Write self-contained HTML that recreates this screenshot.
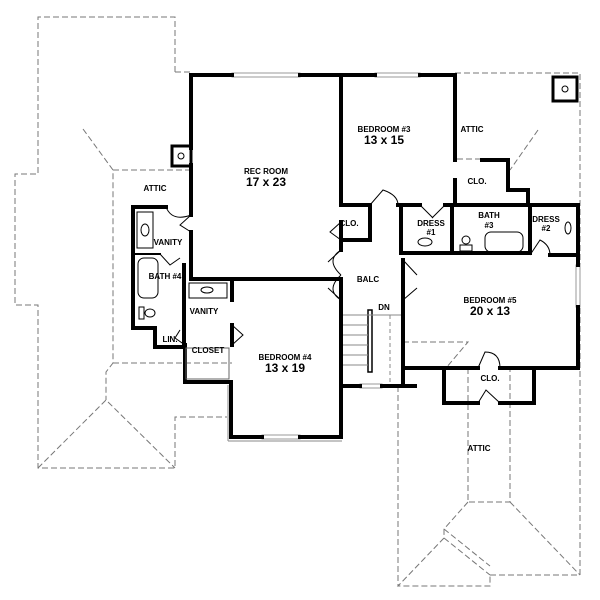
<!DOCTYPE html>
<html><head><style>
html,body{margin:0;padding:0;background:#fff;}
svg{display:block}
text{font-family:"Liberation Sans",Arial,sans-serif;font-weight:bold;fill:#000;text-anchor:middle}
.s{font-size:8px}
.d{font-size:12px}
</style></head><body>
<svg width="600" height="600" viewBox="0 0 600 600" xmlns="http://www.w3.org/2000/svg">
<g fill="none" stroke="#777" stroke-width="1" stroke-dasharray="6,3">
<polyline points="175,72 175,17 38,17 38,174 15,174 15,305 38,305 38,468 175,468 175,417 227,417"/>
<polyline points="83,129 113,170 113,363 106,372 106,400"/>
<line x1="113" y1="170" x2="191" y2="170"/>
<line x1="113" y1="363" x2="232" y2="363"/>
<polyline points="38,468 106,400 175,468"/>
<polyline points="175,72 191,72"/>
<polyline points="455,73 580,73 580,575 490,575"/>
<line x1="538" y1="130" x2="510" y2="170"/>
<polyline points="403,342 468,342 446,368"/>
<polyline points="468,368 468,502 510,502 510,368"/>
<line x1="510" y1="502" x2="580" y2="575"/>
<polyline points="468,502 444,529 444,538 398,586 490,586 490,575"/>
<line x1="444" y1="538" x2="490" y2="575"/>
<line x1="444" y1="529" x2="490" y2="566"/>
<line x1="398" y1="386" x2="398" y2="586"/>
<line x1="457" y1="159" x2="482" y2="159"/>
</g>
<g fill="none" stroke="#999" stroke-width="1">
<rect x="232" y="73" width="68" height="4"/>
<rect x="375" y="73" width="45" height="4"/>
<rect x="576" y="265" width="4" height="42"/>
<rect x="262" y="435" width="38" height="4"/>
<rect x="360" y="384" width="22" height="4"/>
</g>
<g fill="none" stroke="#000" stroke-width="4" stroke-linecap="square">
<polyline points="191,75 191,148"/>
<polyline points="191,165 191,215"/>
<polyline points="191,232 191,279 341,279"/>
<line x1="191" y1="75" x2="232" y2="75"/>
<line x1="300" y1="75" x2="375" y2="75"/>
<line x1="420" y1="75" x2="455" y2="75"/>
<polyline points="341,75 341,205"/>
<line x1="341" y1="222" x2="341" y2="250"/>
<polyline points="455,75 455,160"/>
<polyline points="455,180 455,205"/>
<polyline points="482,160 508,160 508,190 528,190 528,205"/>
<line x1="341" y1="205" x2="370" y2="205"/>
<line x1="398" y1="205" x2="420" y2="205"/>
<line x1="445" y1="205" x2="578" y2="205"/>
<polyline points="370,205 370,240 341,240"/>
<polyline points="578,205 578,265"/>
<polyline points="578,307 578,368 534,368 534,403 500,403"/>
<polyline points="478,403 444,403 444,368 403,368"/>
<line x1="500" y1="368" x2="534" y2="368"/>
<line x1="444" y1="368" x2="478" y2="368"/>
<line x1="401" y1="253" x2="530" y2="253"/>
<line x1="550" y1="255" x2="578" y2="255"/>
<polyline points="401,205 401,253"/>
<line x1="452" y1="205" x2="452" y2="253"/>
<line x1="530" y1="205" x2="530" y2="253"/>
<polyline points="403,260 403,383"/>
<polyline points="341,300 341,437 300,437"/>
<line x1="262" y1="437" x2="231" y2="437"/>
<polyline points="231,437 231,382 185,382 185,345"/>
<line x1="341" y1="386" x2="360" y2="386"/>
<line x1="382" y1="386" x2="415" y2="386"/>
<line x1="341" y1="279" x2="341" y2="300"/>
<polyline points="166,207 133,207 133,328 155,328 155,347 185,347"/>
<polyline points="184,265 184,345"/>
<line x1="232" y1="279" x2="232" y2="300"/>
<line x1="232" y1="325" x2="232" y2="345"/>
<line x1="133" y1="254" x2="160" y2="254" stroke-width="2"/>
<rect x="172" y="146" width="19" height="20" stroke-width="3"/>
<rect x="553" y="77" width="24" height="24" stroke-width="3"/>
</g>
<g fill="none" stroke="#000" stroke-width="1">
<circle cx="181" cy="156" r="3"/>
<circle cx="565" cy="89" r="3"/>
<path d="M341,250 L328,262 M341,300 L328,288 M341,250 Q325,260 341,275 M341,300 Q325,290 341,275"/>
<path d="M403,260 L417,275 M403,300 L417,288"/>
<path d="M370,205 L383,190 Q398,195 398,205"/>
<path d="M420,205 L433,218 M445,205 L432,218"/>
<path d="M478,368 L485,352 Q500,352 500,368 M478,403 L486,390 L500,403"/>
<path d="M530,255 L540,240 Q550,245 550,255"/>
<path d="M341,222 L330,232 L341,240"/>
<path d="M191,215 L180,225 L191,232 M166,207 Q172,222 191,215"/>
<path d="M232,325 L243,335 L232,345"/>
<path d="M185,345 L175,338 L180,330"/>
<path d="M160,254 L170,265 L180,258"/>
<rect x="137" y="212" width="16" height="36"/><ellipse cx="145" cy="230" rx="4" ry="6"/>
<rect x="138" y="258" width="20" height="40" rx="6"/>
<ellipse cx="150" cy="313" rx="5" ry="4"/><rect x="139" y="307" width="5" height="12"/>
<rect x="189" y="283" width="38" height="15"/><ellipse cx="207" cy="290" rx="6" ry="3"/>
<ellipse cx="425" cy="242" rx="7" ry="4"/>
<circle cx="466" cy="240" r="4"/><rect x="460" y="245" width="12" height="6"/>
<rect x="485" y="232" width="38" height="20" rx="6"/>
<ellipse cx="568" cy="228" rx="3" ry="6"/>
<rect x="186" y="348" width="43" height="31" stroke="#666"/>
<rect x="368" y="310" width="4" height="62" stroke-width="1.5"/>
<line x1="343" y1="315" x2="401" y2="315" stroke="#888"/>
<line x1="343" y1="325" x2="368" y2="325" stroke="#888"/>
<line x1="343" y1="335" x2="368" y2="335" stroke="#888"/>
<line x1="343" y1="345" x2="368" y2="345" stroke="#888"/>
<line x1="343" y1="355" x2="368" y2="355" stroke="#888"/>
<line x1="343" y1="365" x2="368" y2="365" stroke="#888"/>
<line x1="390" y1="315" x2="390" y2="384" stroke="#888" stroke-dasharray="4,3"/>
<line x1="228" y1="385" x2="228" y2="441" stroke="#888"/>
<line x1="228" y1="441" x2="342" y2="441" stroke="#888"/>
</g>
<text class="s" x="266" y="174">REC ROOM</text>
<text class="d" x="266" y="186">17 x 23</text>
<text class="s" x="384" y="132">BEDROOM #3</text>
<text class="d" x="384" y="144">13 x 15</text>
<text class="s" x="472" y="132">ATTIC</text>
<text class="s" x="477" y="184">CLO.</text>
<text class="s" x="349" y="226">CLO.</text>
<text class="s" x="431" y="226">DRESS</text>
<text class="s" x="431" y="235">#1</text>
<text class="s" x="489" y="218">BATH</text>
<text class="s" x="489" y="228">#3</text>
<text class="s" x="546" y="222">DRESS</text>
<text class="s" x="546" y="231">#2</text>
<text class="s" x="368" y="282">BALC</text>
<text class="s" x="384" y="310">DN</text>
<text class="s" x="490" y="303">BEDROOM #5</text>
<text class="d" x="490" y="315">20 x 13</text>
<text class="s" x="490" y="381">CLO.</text>
<text class="s" x="479" y="451">ATTIC</text>
<text class="s" x="285" y="360">BEDROOM #4</text>
<text class="d" x="285" y="372">13 x 19</text>
<text class="s" x="155" y="191">ATTIC</text>
<text class="s" x="168" y="245">VANITY</text>
<text class="s" x="165" y="279">BATH #4</text>
<text class="s" x="204" y="314">VANITY</text>
<text class="s" x="170" y="342">LIN.</text>
<text class="s" x="208" y="353">CLOSET</text>
</svg>
</body></html>
